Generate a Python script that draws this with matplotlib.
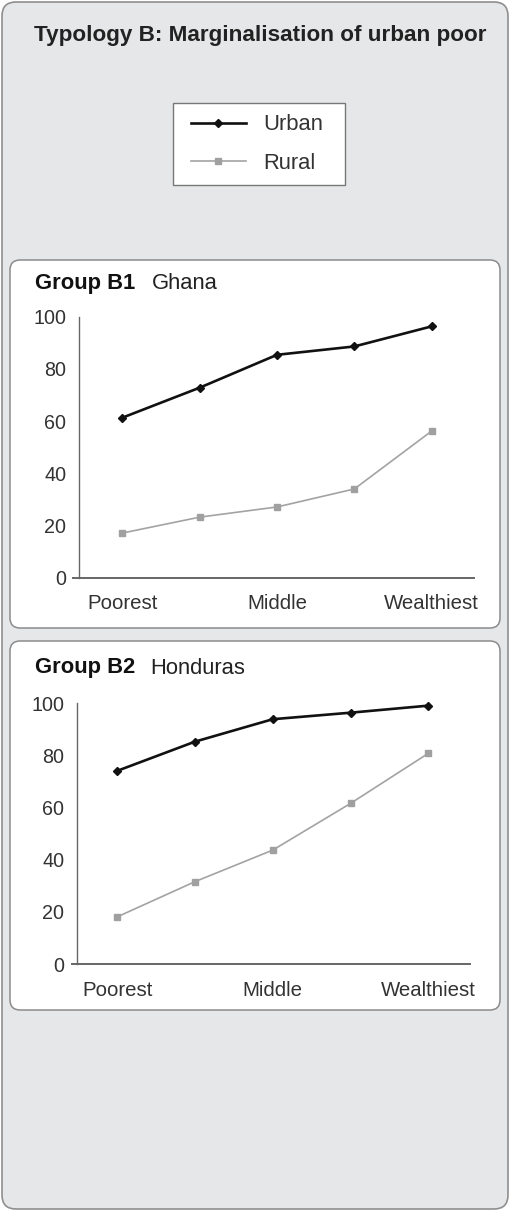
import matplotlib
matplotlib.use("Agg")
import matplotlib.pyplot as plt
from matplotlib.patches import FancyBboxPatch, Rectangle
from matplotlib.lines import Line2D

plt.rcParams['font.family'] = ['Liberation Sans', 'DejaVu Sans']

categories = ["Poorest", "", "Middle", "", "Wealthiest"]
ghana_urban = [61.3, 72.8, 85.4, 88.6, 96.3]
ghana_rural = [17.1, 23.2, 27.1, 34.0, 56.2]
honduras_urban = [74.1, 85.3, 93.9, 96.4, 99.1]
honduras_rural = [18.1, 31.6, 43.7, 61.6, 80.8]
yticks = [0, 20, 40, 60, 80, 100]

W, H = 510, 1211
fig = plt.figure(figsize=(W / 100, H / 100), dpi=100)
fig.patch.set_facecolor('white')

def fbox(x0, y0, x1, y1, fc, ec, r=10, lw=1.0):
    p = FancyBboxPatch((x0 / W, 1 - y1 / H), (x1 - x0) / W, (y1 - y0) / H,
                       boxstyle=f"round,pad=0,rounding_size={r / W}",
                       transform=fig.transFigure, fc=fc, ec=ec, lw=lw,
                       mutation_aspect=W / H, zorder=-10)
    fig.add_artist(p)

# outer background
fbox(2, 2, 508, 1209, '#e6e7e8', '#8f8f8f', r=14, lw=1.2)
fig.text(260 / W, 1 - 36 / H, "Typology B: Marginalisation of urban poor",
         ha='center', va='center', fontsize=16.2, fontweight='bold', color='#222222')

# panels
fbox(10, 260, 500, 628, 'white', '#8c8c8c', r=10, lw=1.1)
fbox(10, 641, 500, 1010, 'white', '#8c8c8c', r=10, lw=1.1)

URB = dict(color='#111111', lw=1.9, marker='D', ms=4.2, mfc='#111111', mec='#111111')
RUR = dict(color='#a3a3a3', lw=1.2, marker='s', ms=4.5, mfc='#a0a0a0', mec='#a0a0a0')

def panel(group, country, ty, cx, urban, rural, x0px, dx, yaxpx, xl, xr, ytop, ybot):
    fig.text(35 / W, 1 - ty / H, group, ha='left', va='center', fontsize=15.8,
             fontweight='bold', color='#111111')
    fig.text(cx / W, 1 - ty / H, country, ha='left', va='center', fontsize=15.8,
             color='#222222')
    xmin = (xl - x0px) / dx
    xmax = (xr - x0px) / dx
    ax = fig.add_axes([xl / W, 1 - ybot / H, (xr - xl) / W, (ybot - ytop) / H])
    ax.set_facecolor('none')
    xs = list(range(len(categories)))
    ax.plot(xs, rural, **RUR, zorder=3, clip_on=False)
    ax.plot(xs, urban, **URB, zorder=4, clip_on=False)
    ax.set_xlim(xmin, xmax)
    ax.set_ylim(0, 100)
    for s in ['top', 'right']:
        ax.spines[s].set_visible(False)
    ax.spines['left'].set_position(('data', (yaxpx - x0px) / dx))
    ax.spines['left'].set_color('#666666')
    ax.spines['bottom'].set_color('#666666')
    ax.spines['left'].set_linewidth(1.0)
    ax.spines['bottom'].set_linewidth(1.4)
    ax.set_yticks(yticks)
    ax.set_yticklabels([str(v) for v in yticks])
    ax.tick_params(axis='y', length=0, pad=9, labelsize=14.2, labelcolor='#333333')
    ax.set_xticks(xs)
    ax.set_xticklabels(categories)
    ax.tick_params(axis='x', length=0, pad=12, labelsize=14.7, labelcolor='#333333')
    return ax

panel("Group B1", "Ghana", 283, 152, ghana_urban, ghana_rural,
      122.3, 77.35, 79, 73, 474, 316.7, 577.7)
panel("Group B2", "Honduras", 668, 150, honduras_urban, honduras_rural,
      117.3, 77.75, 77, 72, 470, 703.3, 964)

# legend frame
fig.add_artist(Rectangle((173 / W, 1 - 185 / H), 172 / W, 82 / H,
                         transform=fig.transFigure, fc='white', ec='#777777',
                         lw=1.0, zorder=2))
handles = [Line2D([], [], **URB), Line2D([], [], **RUR)]
leg = fig.legend(handles, ["Urban", "Rural"], loc='center',
                 bbox_to_anchor=(257 / W, 1 - 144 / H), frameon=False,
                 fontsize=15.8, handlelength=2.5, handletextpad=0.8,
                 labelspacing=0.78, borderpad=0.0, borderaxespad=0)
leg.set_zorder(3)
for t in leg.get_texts():
    t.set_color('#333333')

fig.savefig("out.png", dpi=100, facecolor='white')
